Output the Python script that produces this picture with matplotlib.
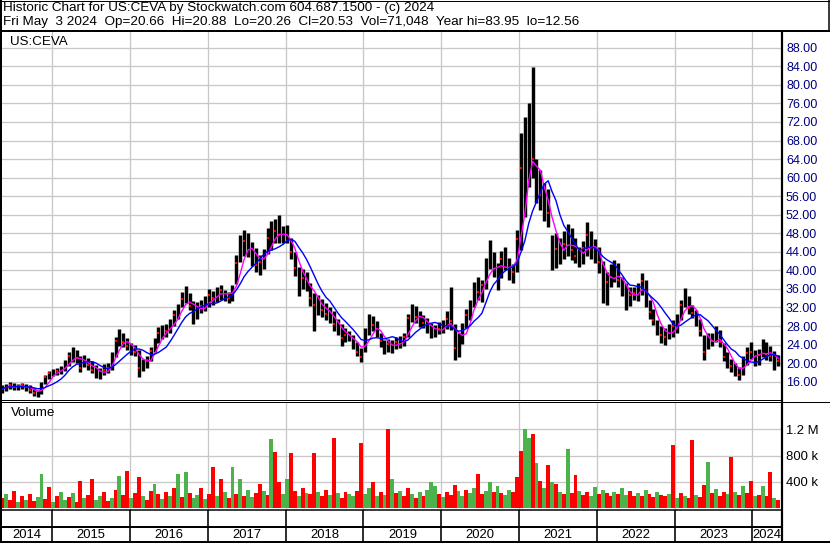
import numpy as np
import pandas as pd
import matplotlib
matplotlib.use("Agg")
import matplotlib.pyplot as plt
from matplotlib.ticker import FormatStrFormatter, FixedFormatter

# ---------------- data ----------------
first_bar_year = 2014.36
last_bar_year = 2024.33
n_bars = 200
bar_years = np.linspace(first_bar_year, last_bar_year, n_bars)

price_low = [
    13.6, 14.0, 14.4, 14.3, 14.2, 14.4, 14.0, 13.6, 13.0, 12.6,
    13.4, 15.4, 16.6, 17.2, 17.4, 17.6, 18.2, 19.4, 20.2, 20.0,
    18.0, 19.2, 18.6, 17.8, 16.8, 16.6, 17.4, 17.8, 18.6, 21.4,
    23.6, 23.4, 22.8, 21.8, 21.6, 17.0, 18.2, 19.0, 20.4, 22.4,
    24.4, 25.2, 25.6, 26.4, 28.0, 29.6, 32.0, 33.0, 31.4, 28.4,
    29.6, 30.8, 31.2, 32.0, 32.6, 33.2, 33.6, 33.4, 33.0, 33.4,
    37.0, 41.8, 43.0, 42.8, 41.0, 39.6, 39.0, 40.4, 43.6, 44.4,
    45.8, 46.0, 45.8, 46.0, 42.4, 38.8, 34.4, 36.0, 35.6, 32.4,
    27.0, 30.4, 30.0, 29.2, 28.6, 27.0, 26.0, 23.6, 24.6, 24.8,
    23.0, 21.6, 20.2, 22.4, 26.0, 27.0, 25.6, 23.4, 22.0, 22.4,
    22.2, 23.0, 23.2, 23.6, 25.6, 28.8, 28.6, 27.8, 27.6, 26.6,
    25.4, 25.6, 26.2, 26.6, 27.4, 27.2, 20.6, 21.4, 24.2, 27.6,
    29.4, 32.0, 33.6, 33.2, 36.0, 40.4, 38.6, 35.8, 38.4, 40.0,
    38.0, 37.2, 39.6, 44.4, 51.5, 58.0, 60.0, 54.6, 53.0, 50.6,
    49.3, 40.0, 40.6, 41.4, 42.4, 43.0, 42.2, 41.6, 40.8, 41.4,
    43.0, 42.4, 41.6, 39.4, 33.0, 32.6, 36.4, 37.6, 36.4, 34.4,
    31.4, 32.4, 33.6, 33.4, 34.6, 32.2, 29.6, 28.2, 26.0, 24.4,
    24.0, 25.2, 25.6, 26.6, 29.2, 32.0, 30.6, 29.8, 28.0, 25.8,
    20.6, 23.0, 23.6, 24.6, 23.4, 20.4, 19.0, 18.0, 17.2, 16.4,
    17.4, 19.6, 20.8, 19.4, 19.6, 21.4, 20.6, 20.4, 18.6, 19.4,
]
price_high = [
    15.2, 15.6, 16.0, 15.7, 15.6, 15.7, 15.4, 15.2, 14.6, 14.2,
    16.0, 17.4, 18.4, 18.8, 19.0, 19.4, 20.6, 22.4, 23.4, 22.8,
    21.6, 21.8, 21.2, 20.4, 19.6, 19.0, 19.8, 20.0, 22.4, 25.6,
    27.3, 26.6, 25.4, 24.4, 24.0, 22.8, 21.0, 21.6, 23.4, 25.4,
    27.8, 28.2, 28.4, 29.6, 31.4, 32.8, 35.4, 36.6, 35.2, 33.4,
    33.2, 33.6, 34.4, 36.0, 35.6, 36.4, 36.8, 35.8, 35.4, 36.8,
    43.4, 47.6, 48.7, 48.0, 46.2, 44.8, 43.4, 44.6, 49.2, 50.6,
    51.0, 52.0, 49.6, 49.8, 47.0, 44.0, 40.8, 40.2, 39.6, 37.2,
    35.2, 34.6, 33.8, 33.0, 32.0, 31.2, 29.6, 28.4, 27.6, 27.0,
    26.0, 24.6, 23.2, 27.6, 30.6, 30.2, 29.0, 26.6, 25.0, 25.2,
    25.0, 25.6, 25.8, 26.6, 30.6, 32.8, 32.4, 31.2, 30.4, 29.8,
    28.6, 28.2, 28.8, 29.4, 31.2, 36.4, 28.4, 26.6, 28.6, 31.6,
    33.6, 37.6, 38.6, 38.0, 42.6, 46.5, 44.0, 41.6, 44.2, 45.0,
    42.6, 41.4, 48.7, 69.6, 73.0, 76.0, 83.95, 64.0, 61.6, 58.8,
    57.6, 47.6, 48.0, 47.0, 48.6, 50.0, 49.2, 47.0, 45.0, 46.4,
    50.4, 48.6, 46.8, 45.0, 42.0, 39.6, 41.4, 42.2, 41.6, 38.6,
    37.2, 36.4, 36.4, 37.2, 39.4, 38.0, 33.6, 31.6, 29.4, 28.0,
    27.6, 28.4, 29.2, 30.6, 33.6, 36.3, 34.4, 32.6, 31.4, 29.6,
    26.0, 26.6, 26.6, 28.0, 27.2, 24.4, 22.4, 21.0, 20.0, 19.2,
    21.6, 23.4, 24.6, 22.8, 23.0, 25.3, 24.6, 23.6, 22.6, 21.8,
]
price_close = [
    14.5, 15.0, 15.3, 14.8, 15.0, 15.2, 14.6, 14.2, 13.5, 13.2,
    15.6, 17.0, 17.8, 18.2, 18.4, 18.8, 20.0, 21.5, 22.0, 21.2,
    19.0, 20.6, 19.6, 18.6, 17.6, 17.4, 18.6, 19.0, 21.8, 24.8,
    25.6, 24.6, 23.6, 22.6, 22.4, 19.0, 19.8, 20.6, 22.6, 24.8,
    26.6, 27.2, 27.0, 28.6, 30.4, 32.0, 33.8, 34.4, 32.4, 30.2,
    31.8, 32.4, 33.0, 34.6, 34.0, 35.4, 35.8, 34.6, 34.0, 36.2,
    41.6, 45.4, 46.4, 44.2, 43.0, 41.2, 41.8, 43.8, 47.0, 47.8,
    48.6, 47.6, 47.2, 47.4, 44.0, 40.6, 36.6, 38.4, 37.2, 34.0,
    32.6, 32.8, 31.4, 30.6, 30.0, 28.4, 27.2, 25.4, 26.0, 25.8,
    24.2, 22.4, 21.4, 26.6, 28.6, 28.2, 26.6, 24.8, 23.2, 24.2,
    23.4, 24.6, 24.4, 25.6, 29.8, 31.2, 30.0, 29.4, 28.6, 28.0,
    26.4, 26.8, 27.4, 28.2, 29.6, 29.0, 23.2, 24.6, 27.2, 30.4,
    32.4, 36.2, 35.4, 36.8, 41.0, 43.2, 40.4, 38.0, 42.4, 42.0,
    40.0, 39.6, 46.8, 62.0, 60.0, 68.0, 64.0, 58.0, 56.2, 54.0,
    52.4, 43.2, 44.6, 43.8, 45.6, 47.8, 44.4, 43.0, 42.6, 44.8,
    47.6, 44.8, 43.4, 41.8, 36.0, 37.6, 38.6, 40.8, 38.0, 35.6,
    33.4, 34.6, 35.2, 35.6, 37.8, 34.0, 31.0, 29.4, 27.2, 26.0,
    25.6, 26.8, 28.0, 29.8, 32.6, 34.4, 31.8, 30.8, 29.2, 27.0,
    22.4, 25.0, 24.8, 26.2, 24.6, 21.4, 20.4, 19.4, 18.2, 17.4,
    20.6, 22.2, 22.4, 20.6, 21.8, 23.6, 22.0, 21.6, 20.0, 20.53,
]
volume_k = [
    150, 210, 120, 260, 90, 180, 130, 220, 110, 170,
    520, 140, 320, 100, 190, 250, 120, 170, 230, 90,
    420, 150, 200, 450, 130, 180, 240, 110, 160, 280,
    490, 200, 570, 150, 230, 480, 180, 120, 260, 370,
    210, 140, 250, 190, 300, 520, 170, 550, 230, 160,
    200, 300, 140, 220, 630, 180, 450, 250, 160, 630,
    210, 450, 190, 280, 170, 230, 370, 260, 200, 1050,
    850, 400, 220, 450, 840, 260, 190, 300, 230, 210,
    840, 250, 180, 280, 200, 1070, 230, 160, 250, 210,
    190, 260, 990, 220, 300, 400, 180, 240, 200, 1210,
    450, 230, 260, 180, 300, 210, 160, 240, 190, 270,
    400, 330, 220, 170, 250, 200, 350, 260, 190, 280,
    230, 300, 520, 210, 260, 400, 250, 330, 230, 200,
    280, 240, 480, 870, 1200, 1060, 1120, 680, 420, 300,
    660, 400, 370, 250, 220, 900, 230, 500, 260, 200,
    240, 190, 320, 210, 270, 230, 180, 250, 220, 300,
    200, 260, 180, 230, 190, 280, 210, 170, 250, 200,
    180, 220, 960, 150, 230, 190, 160, 1030, 200, 170,
    350, 700, 230, 290, 180, 250, 210, 780, 240, 200,
    330, 230, 420, 190, 200, 330, 180, 550, 150, 120,
]
# U = up bar (green volume), D = down bar (red volume, red close tick)
bar_direction = (
    "DUDDUDUDDU" "UDDUDUUDUD" "DUDDUUDDUD" "UDDUDDUDDU" "DUDUDUDUDU"
    "UDUDDUDUDU" "DUDUUDDUDU" "DDUUDDUDUD" "DUDDUDUDDU" "UDDUUDUDUD"
    "UDUDDUDUDU" "UUDUDDDUUD" "UUDDUUDUDU" "UDDDUUDUDU" "DUDUDUDDUD"
    "DUUDUDDUDU" "UDDUDUDDUD" "DUDUDUDDUD" "DUDUDDUDUD" "UDDUDUDDUD"
)
year_starts = list(range(2015, 2025))
year_labels = [str(y) for y in range(2014, 2025)]
price_ticks = list(range(16, 89, 4))
volume_ticks = [0.4, 0.8, 1.2]
volume_tick_labels = ["400 k", "800 k", "1.2 M"]
fast_ma_window = 4
slow_ma_window = 8

header_line1 = "Historic Chart for US:CEVA by Stockwatch.com 604.687.1500 - (c) 2024"
header_line2 = ("Fri May  3 2024  Op=20.66  Hi=20.88  Lo=20.26  Cl=20.53  "
                "Vol=71,048  Year hi=83.95  lo=12.56")
symbol = "US:CEVA"

# ---------------- layout ----------------
W, H = 830, 543
DPI = 100
FONT = "Liberation Sans"
plt.rcParams["font.family"] = [FONT, "DejaVu Sans"]

fig = plt.figure(figsize=(W / DPI, H / DPI), dpi=DPI)
fig.patch.set_facecolor("white")

def rect(x0, y0, x1, y1):
    return [x0 / W, 1 - y1 / H, (x1 - x0) / W, (y1 - y0) / H]

PX = 72.0 / DPI  # points per pixel
GRID = "#c8c8c8"
x_left = 2014.328 + 2 / 77.8
x_right = 2014.328 + 781 / 77.8

# price panel
ax_p = fig.add_axes(rect(2, 31, 781, 399.5))
ax_p.set_xlim(x_left, x_right)
ax_p.set_ylim(12.16, 91.62)
for s in ax_p.spines.values():
    s.set_visible(False)
ax_p.set_xticks(year_starts)
ax_p.set_yticks(price_ticks)
ax_p.yaxis.tick_right()
ax_p.yaxis.set_major_formatter(FormatStrFormatter("%.2f"))
ax_p.tick_params(axis="y", length=0, pad=5 * PX, labelsize=9, labelcolor="#000080")
ax_p.tick_params(axis="x", length=0, labelbottom=False)
ax_p.grid(True, color=GRID, linewidth=1.3 * PX)
ax_p.set_axisbelow(True)

lo = np.array(price_low)
hi = np.array(price_high)
cl = np.array(price_close)
down = np.array([c == "D" for c in bar_direction])

ax_p.vlines(bar_years, lo, hi, colors="black", linewidth=3.4 * PX, zorder=3)
ax_p.plot(bar_years[down], cl[down], linestyle="none", marker="s",
          markersize=2.6 * PX, markerfacecolor="red", markeredgewidth=0, zorder=4)
ma_fast = pd.Series(cl).rolling(fast_ma_window, min_periods=1).mean()
ma_slow = pd.Series(cl).rolling(slow_ma_window, min_periods=1).mean()
ax_p.plot(bar_years, ma_fast, color="#ff00ff", linewidth=1.4 * PX, zorder=5)
ax_p.plot(bar_years, ma_slow, color="#0000ff", linewidth=1.4 * PX, zorder=6)
ax_p.text(8 / 779, 1 - 11 / 368.5, symbol, transform=ax_p.transAxes,
          fontsize=9.6, va="center", ha="left", color="black")

# volume panel
ax_v = fig.add_axes(rect(2, 401.5, 781, 509.5))
ax_v.set_xlim(x_left, x_right)
ax_v.set_ylim(-0.02, 1.62)
for s in ax_v.spines.values():
    s.set_visible(False)
ax_v.set_xticks(year_starts)
ax_v.set_yticks(volume_ticks)
ax_v.yaxis.tick_right()
ax_v.yaxis.set_major_formatter(FixedFormatter(volume_tick_labels))
ax_v.tick_params(axis="y", length=0, pad=5 * PX, labelsize=9.4, labelcolor="black")
ax_v.tick_params(axis="x", length=0, labelbottom=False)
ax_v.grid(True, color=GRID, linewidth=1.3 * PX)
ax_v.set_axisbelow(True)
vol_colors = ["#ff0000" if d else "#4cb34c" for d in down]
ax_v.bar(bar_years, np.array(volume_k) / 1000.0, width=(bar_years[1] - bar_years[0]),
         color=vol_colors, linewidth=0, zorder=3)
ax_v.text(9 / 779, 1 - 11 / 108, "Volume", transform=ax_v.transAxes,
          fontsize=9.6, va="center", ha="left", color="black")

# year band
ax_y = fig.add_axes(rect(2, 509.5, 781, 542))
ax_y.set_xlim(x_left, x_right)
ax_y.set_ylim(0, 1)
ax_y.axis("off")
ax_y.vlines(year_starts, 0, 1, colors="black", linewidth=1.6 * PX)
ax_y.axhline((542 - 527) / 32.5, color="black", linewidth=2 * PX)
bounds = [x_left] + year_starts + [x_right]
for lab, a, b in zip(year_labels, bounds[:-1], bounds[1:]):
    ax_y.text((a + b) / 2, (542 - 534.5) / 32.5, lab, ha="center", va="center",
              fontsize=9.4, color="black")

# overlay frame and header
ov = fig.add_axes([0, 0, 1, 1], zorder=10)
ov.set_xlim(0, W)
ov.set_ylim(H, 0)
ov.axis("off")
ov.patch.set_alpha(0)
k = dict(color="black", solid_capstyle="butt")
ov.plot([1, 1], [0, H], linewidth=2 * PX, **k)
ov.plot([0, W], [0.5, 0.5], linewidth=1 * PX, **k)
ov.plot([W - 1.5, W - 1.5], [0, 31], linewidth=1.5 * PX, **k)
ov.plot([0, W], [30.5, 30.5], linewidth=2 * PX, **k)
ov.plot([782, 782], [31, H], linewidth=2.2 * PX, **k)
ov.plot([0, 782], [400, 400], linewidth=1 * PX, **k)
ov.plot([0, W], [402, 402], linewidth=1 * PX, **k)
ov.plot([0, 782], [509.5, 509.5], linewidth=1.5 * PX, **k)
ov.plot([0, W], [542, 542], linewidth=2 * PX, **k)
ov.text(3, 8.5, header_line1, fontsize=9.7, va="center", ha="left")
ov.text(3, 22, header_line2, fontsize=9.7, va="center", ha="left")

fig.savefig("out.png", dpi=DPI)
